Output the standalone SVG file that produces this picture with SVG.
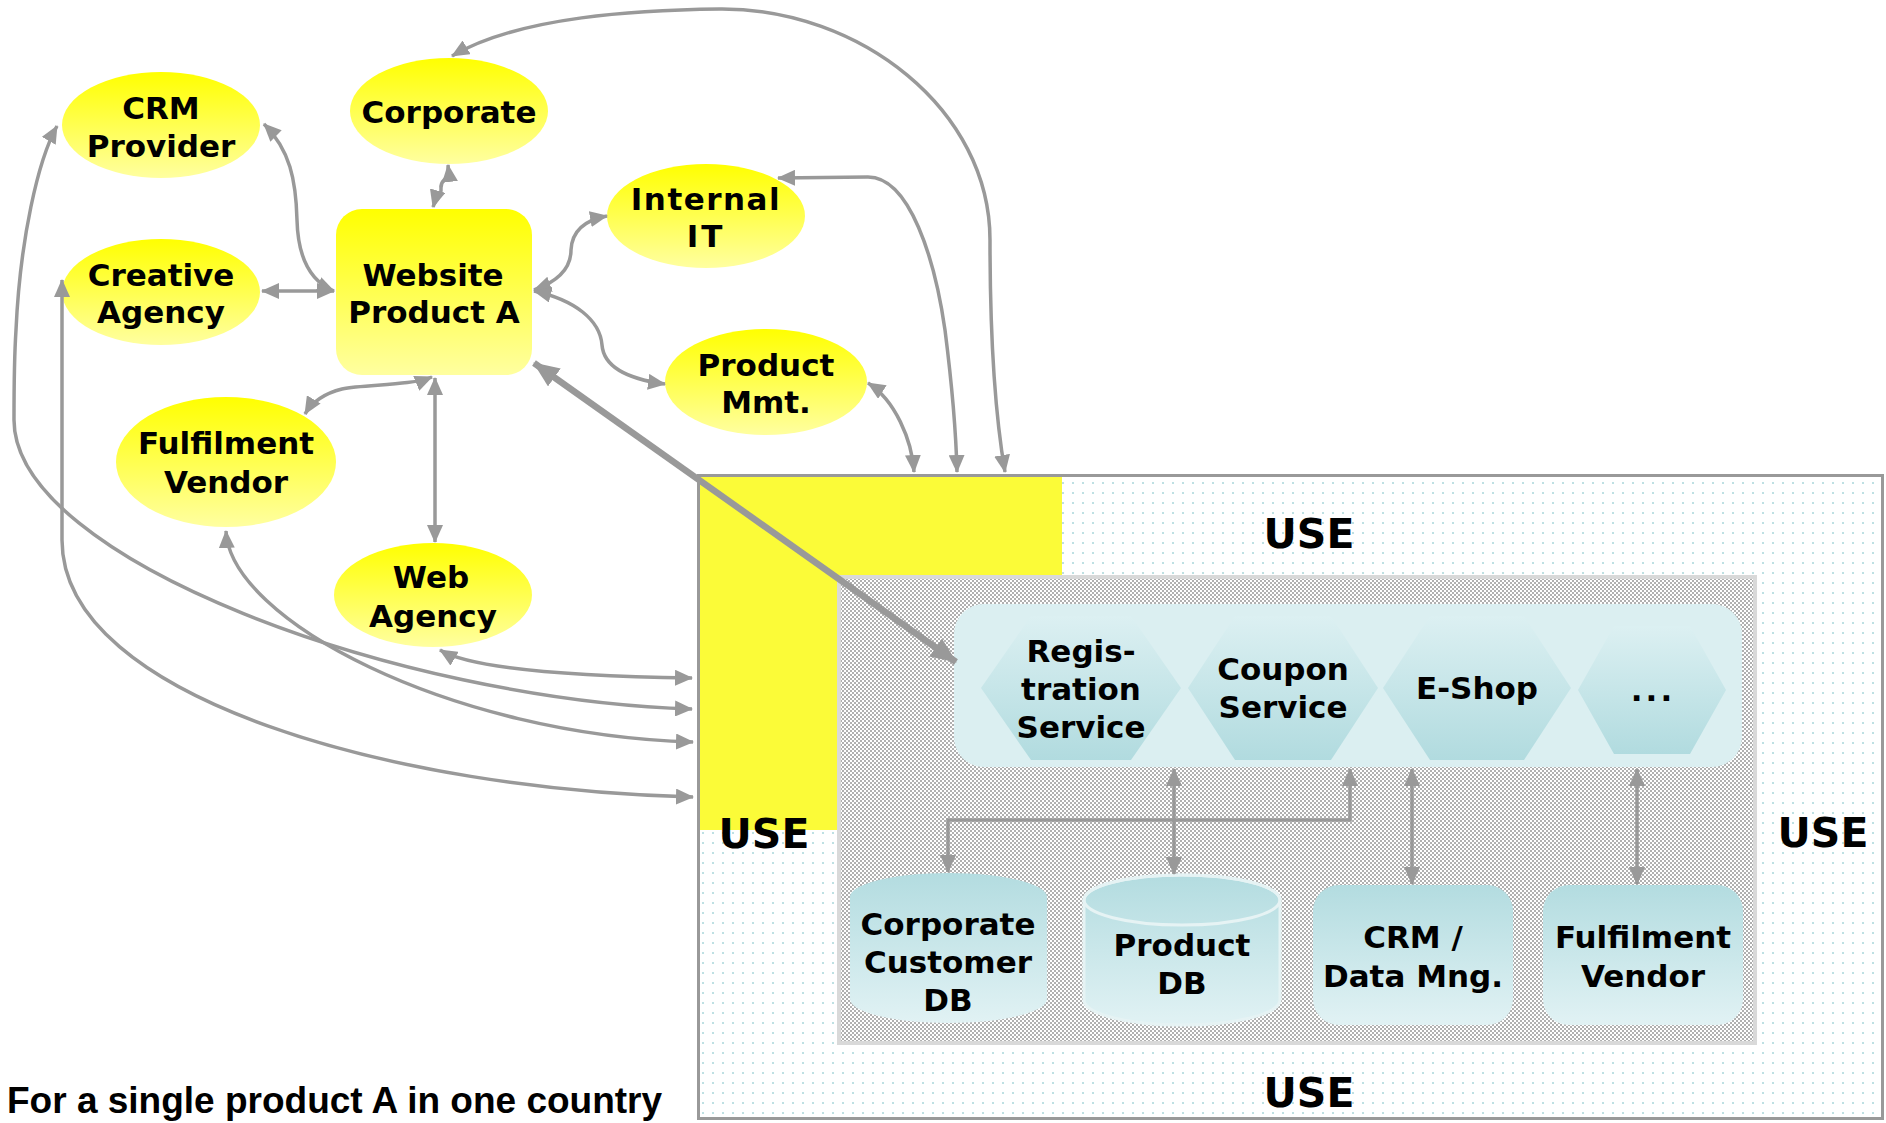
<svg xmlns="http://www.w3.org/2000/svg" width="1886" height="1123" viewBox="0 0 1886 1123">
<defs>
  <linearGradient id="gYel" x1="0" y1="0" x2="0" y2="1">
    <stop offset="0" stop-color="#ffff00"/>
    <stop offset="1" stop-color="#ffffa0"/>
  </linearGradient>
  <linearGradient id="gHex" x1="0" y1="0" x2="0" y2="1">
    <stop offset="0" stop-color="#dcf0f2"/>
    <stop offset="1" stop-color="#b1dbdf"/>
  </linearGradient>
  <linearGradient id="gDb" x1="0" y1="0" x2="0" y2="1">
    <stop offset="0" stop-color="#b3dce0"/>
    <stop offset="1" stop-color="#e1f2f4"/>
  </linearGradient>
  <pattern id="pOuter" width="20" height="20" patternUnits="userSpaceOnUse">
    <rect width="20" height="20" fill="#ffffff"/>
    <circle cx="3" cy="3" r="1" fill="#a9d6da"/>
    <circle cx="13" cy="13" r="1" fill="#a9d6da"/>
    <circle cx="13" cy="3" r="1" fill="#a9d6da"/>
    <circle cx="3" cy="13" r="1" fill="#a9d6da"/>
  </pattern>
  <pattern id="pDense" width="4" height="4" patternUnits="userSpaceOnUse">
    <rect width="4" height="4" fill="#ffffff"/>
    <circle cx="1" cy="1" r="0.75" fill="#3a3a3a"/>
    <circle cx="3" cy="3" r="0.75" fill="#3a3a3a"/>
  </pattern>
  <marker id="ah" viewBox="0 0 18 16" refX="17" refY="8" markerWidth="18" markerHeight="16" markerUnits="userSpaceOnUse" orient="auto-start-reverse">
    <path d="M0,0 L18,8 L0,16 Z" fill="#999999"/>
  </marker>
  <marker id="ahBig" viewBox="0 0 26 22" refX="25" refY="11" markerWidth="26" markerHeight="22" markerUnits="userSpaceOnUse" orient="auto-start-reverse">
    <path d="M0,0 L26,11 L0,22 Z" fill="#999999"/>
  </marker>
  <style>
    .ell { fill: url(#gYel); }
    .lbl { font-family: "DejaVu Sans", Verdana, sans-serif; font-weight: bold; font-size: 31px; fill: #000; text-anchor: middle; }
    .use { font-family: "DejaVu Sans", Verdana, sans-serif; font-weight: bold; font-size: 41px; fill: #000; text-anchor: middle; }
    .cap { font-family: "Liberation Sans", Arial, sans-serif; font-weight: bold; font-size: 37px; fill: #000; }
    .con { fill: none; stroke: #999999; stroke-width: 3.5; marker-start: url(#ah); marker-end: url(#ah); }
    .thick { fill: none; stroke: #999999; stroke-width: 6.5; marker-start: url(#ahBig); marker-end: url(#ahBig); }
    .hex { fill: url(#gHex); }
    .db { fill: url(#gDb); }
  </style>
</defs>

<!-- Background containers -->
<g id="use-area">
  <rect x="698.5" y="475.5" width="1184" height="643" fill="url(#pOuter)" stroke="#999999" stroke-width="3"/>
  <path d="M700,477 H1062 V575 H838 V830 H700 Z" fill="#fbfb38"/>
  <text class="use" x="1309" y="548">USE</text>
  <text class="use" x="764" y="848">USE</text>
  <text class="use" x="1823" y="847">USE</text>
  <text class="use" x="1309" y="1107">USE</text>
</g>

<g id="internal-area">
  <rect x="839" y="577" width="916" height="466" fill="url(#pDense)" stroke="#d9d9d9" stroke-width="4"/>
</g>

<g id="services">
  <rect x="954" y="604" width="788" height="163" rx="30" fill="#dbeff1"/>
</g>

<g id="registration-service">
  <polygon class="hex" points="981,688 1031,616 1131,616 1181,688 1131,760 1031,760"/>
  <text class="lbl" x="1081" y="662">Regis-</text>
  <text class="lbl" x="1081" y="700">tration</text>
  <text class="lbl" x="1081" y="738">Service</text>
</g>
<g id="coupon-service">
  <polygon class="hex" points="1188,688 1235,616 1331,616 1378,688 1331,760 1235,760"/>
  <text class="lbl" x="1283" y="680">Coupon</text>
  <text class="lbl" x="1283" y="718">Service</text>
</g>
<g id="e-shop">
  <polygon class="hex" points="1383,688 1430,616 1524,616 1571,688 1524,760 1430,760"/>
  <text class="lbl" x="1477" y="699">E-Shop</text>
</g>
<g id="more-services">
  <polygon class="hex" points="1578,690 1614,626 1690,626 1726,690 1690,754 1614,754"/>
  <text class="lbl" x="1653" y="701" letter-spacing="3">...</text>
</g>

<g id="corporate-customer-db">
  <path class="db" d="M850,897 A98.5,24 0 0 1 1047,897 V999 A98.5,24 0 0 1 850,999 Z"/>
  <text class="lbl" x="948" y="935">Corporate</text>
  <text class="lbl" x="948" y="973">Customer</text>
  <text class="lbl" x="948" y="1011">DB</text>
</g>
<g id="product-db">
  <path class="db" d="M1084,900 A98,25 0 0 1 1280,900 V1000 A98,25 0 0 1 1084,1000 Z" stroke="#e6f3f4" stroke-width="3"/>
  <ellipse cx="1182" cy="900" rx="98" ry="25" fill="none" stroke="#e6f3f4" stroke-width="3"/>
  <text class="lbl" x="1182" y="956">Product</text>
  <text class="lbl" x="1182" y="994">DB</text>
</g>
<g id="crm-data-mng">
  <rect class="db" x="1313" y="885" width="200" height="140" rx="26"/>
  <text class="lbl" x="1413" y="948">CRM /</text>
  <text class="lbl" x="1413" y="987">Data Mng.</text>
</g>
<g id="fulfilment-vendor-internal">
  <rect class="db" x="1543" y="885" width="200" height="140" rx="26"/>
  <text class="lbl" x="1643" y="948">Fulfilment</text>
  <text class="lbl" x="1643" y="987">Vendor</text>
</g>

<!-- Outer nodes -->
<g id="crm-provider">
  <ellipse class="ell" cx="161" cy="125" rx="99" ry="53"/>
  <text class="lbl" x="161" y="119">CRM</text>
  <text class="lbl" x="161" y="157">Provider</text>
</g>
<g id="corporate">
  <ellipse class="ell" cx="449" cy="111" rx="99" ry="53"/>
  <text class="lbl" x="449" y="123">Corporate</text>
</g>
<g id="creative-agency">
  <ellipse class="ell" cx="161" cy="292" rx="99" ry="53"/>
  <text class="lbl" x="161" y="286">Creative</text>
  <text class="lbl" x="161" y="323">Agency</text>
</g>
<g id="website-product-a">
  <rect x="336" y="209" width="196" height="166" rx="26" fill="url(#gYel)"/>
  <text class="lbl" x="433" y="286">Website</text>
  <text class="lbl" x="434" y="323">Product A</text>
</g>
<g id="internal-it">
  <ellipse class="ell" cx="706" cy="216" rx="99" ry="52"/>
  <text class="lbl" x="706" y="210" letter-spacing="1.5">Internal</text>
  <text class="lbl" x="706" y="247" letter-spacing="3">IT</text>
</g>
<g id="product-mmt">
  <ellipse class="ell" cx="766" cy="382" rx="101" ry="53"/>
  <text class="lbl" x="766" y="376">Product</text>
  <text class="lbl" x="766" y="413">Mmt.</text>
</g>
<g id="fulfilment-vendor">
  <ellipse class="ell" cx="226" cy="462" rx="110" ry="65"/>
  <text class="lbl" x="226" y="454">Fulfilment</text>
  <text class="lbl" x="226" y="493">Vendor</text>
</g>
<g id="web-agency">
  <ellipse class="ell" cx="433" cy="595" rx="99" ry="52"/>
  <text class="lbl" x="431" y="588">Web</text>
  <text class="lbl" x="433" y="627">Agency</text>
</g>

<!-- Connectors -->
<g id="connectors">
  <path class="con" d="M452,56 C520,16 640,10 720,9 C860,8 990,110 990,240 C990,340 996,420 1005,472"/>
  <path class="con" d="M778,178 L868,177 C910,177 935,260 945,330 C952,385 956,430 957,472"/>
  <path class="con" d="M868,383 C895,400 912,440 914,472"/>
  <path class="con" d="M448,165 C450,182 440,178 441,188 C442,197 435,200 433,207"/>
  <path class="con" d="M264,124 C290,150 296,180 297,220 C298,260 312,282 334,291"/>
  <path class="con" d="M262,291 L334,291"/>
  <path class="con" d="M432,377 C410,386 365,384 342,389 C322,394 311,404 305,414"/>
  <path class="con" d="M435,378 L435,542"/>
  <path class="con" d="M534,290 C562,280 571,265 571,250 C572,230 585,220 607,216"/>
  <path class="con" d="M534,291 C575,300 600,320 602,345 C604,370 635,380 665,384"/>
  <path class="thick" d="M534,363 L956,662"/>
  <path class="con" d="M57,126 C38,160 20,240 16,330 C14,360 14,400 14,420 C14,560 400,700 692,709"/>
  <path class="con" d="M62,280 L62,540 C62,700 400,790 693,797"/>
  <path class="con" d="M226,531 C230,620 450,735 693,742"/>
  <path class="con" d="M440,650 C470,668 560,676 692,678"/>
  <path class="con" d="M948,872 V820 H1350 V769"/>
  <path class="con" d="M1174,874 V769"/>
  <path class="con" d="M1412,884 V769"/>
  <path class="con" d="M1637,884 V769"/>
</g>

<text class="cap" x="7" y="1113">For a single product A in one country</text>
</svg>
